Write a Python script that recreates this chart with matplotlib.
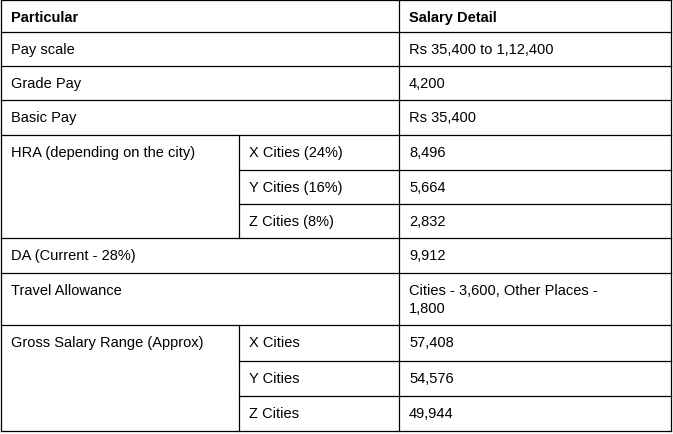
import matplotlib
matplotlib.use("Agg")
import matplotlib.pyplot as plt

W, H = 673, 435
headers = ["Particular", "Salary Detail"]
particulars = ["Pay scale", "Grade Pay", "Basic Pay", "HRA (depending on the city)",
               "DA (Current - 28%)", "Travel Allowance", "Gross Salary Range (Approx)"]
hra_sub = ["X Cities (24%)", "Y Cities (16%)", "Z Cities (8%)"]
hra_vals = ["8,496", "5,664", "2,832"]
gross_sub = ["X Cities", "Y Cities", "Z Cities"]
gross_vals = ["57,408", "54,576", "49,944"]
simple_vals = ["Rs 35,400 to 1,12,400", "4,200", "Rs 35,400"]
da_val = "9,912"
travel_val = "Cities - 3,600, Other Places -\n1,800"

x0, x1, x2, x3 = 1, 239, 399, 671
rows = [1, 33, 67, 101, 136, 171, 205, 239, 274, 326, 362, 397, 432]

plt.rcParams["font.family"] = "Liberation Sans"
fig = plt.figure(figsize=(W/100, H/100), dpi=100)
ax = fig.add_axes([0, 0, 1, 1])
ax.set_xlim(0, W); ax.set_ylim(H, 0); ax.axis("off")
lw = 0.9
def hl(y, a, b): ax.plot([a, b], [y, y], color="black", lw=lw)
def vl(x, a, b): ax.plot([x, x], [a, b], color="black", lw=lw)

for k in [0, 1, 2, 3, 4, 7, 8, 9, 12]:
    hl(rows[k], x0, x3)
for k in [5, 6, 10, 11]:
    hl(rows[k], x1, x3)
vl(x0, rows[0], rows[-1]); vl(x3, rows[0], rows[-1]); vl(x2, rows[0], rows[-1])
vl(x1, rows[4], rows[7]); vl(x1, rows[9], rows[12])

fs = 10.5
def t(x, y, s, bold=False):
    ax.text(x + 10, y + 10, s, fontsize=fs, va="top", ha="left",
            fontweight="bold" if bold else "normal", linespacing=1.35)

t(x0, rows[0], headers[0], True); t(x2, rows[0], headers[1], True)
for i in range(3):
    t(x0, rows[1+i], particulars[i]); t(x2, rows[1+i], simple_vals[i])
t(x0, rows[4], particulars[3])
for i in range(3):
    t(x1, rows[4+i], hra_sub[i]); t(x2, rows[4+i], hra_vals[i])
t(x0, rows[7], particulars[4]); t(x2, rows[7], da_val)
t(x0, rows[8], particulars[5]); t(x2, rows[8], travel_val)
t(x0, rows[9], particulars[6])
for i in range(3):
    t(x1, rows[9+i], gross_sub[i]); t(x2, rows[9+i], gross_vals[i])

fig.savefig("out.png", dpi=100)
